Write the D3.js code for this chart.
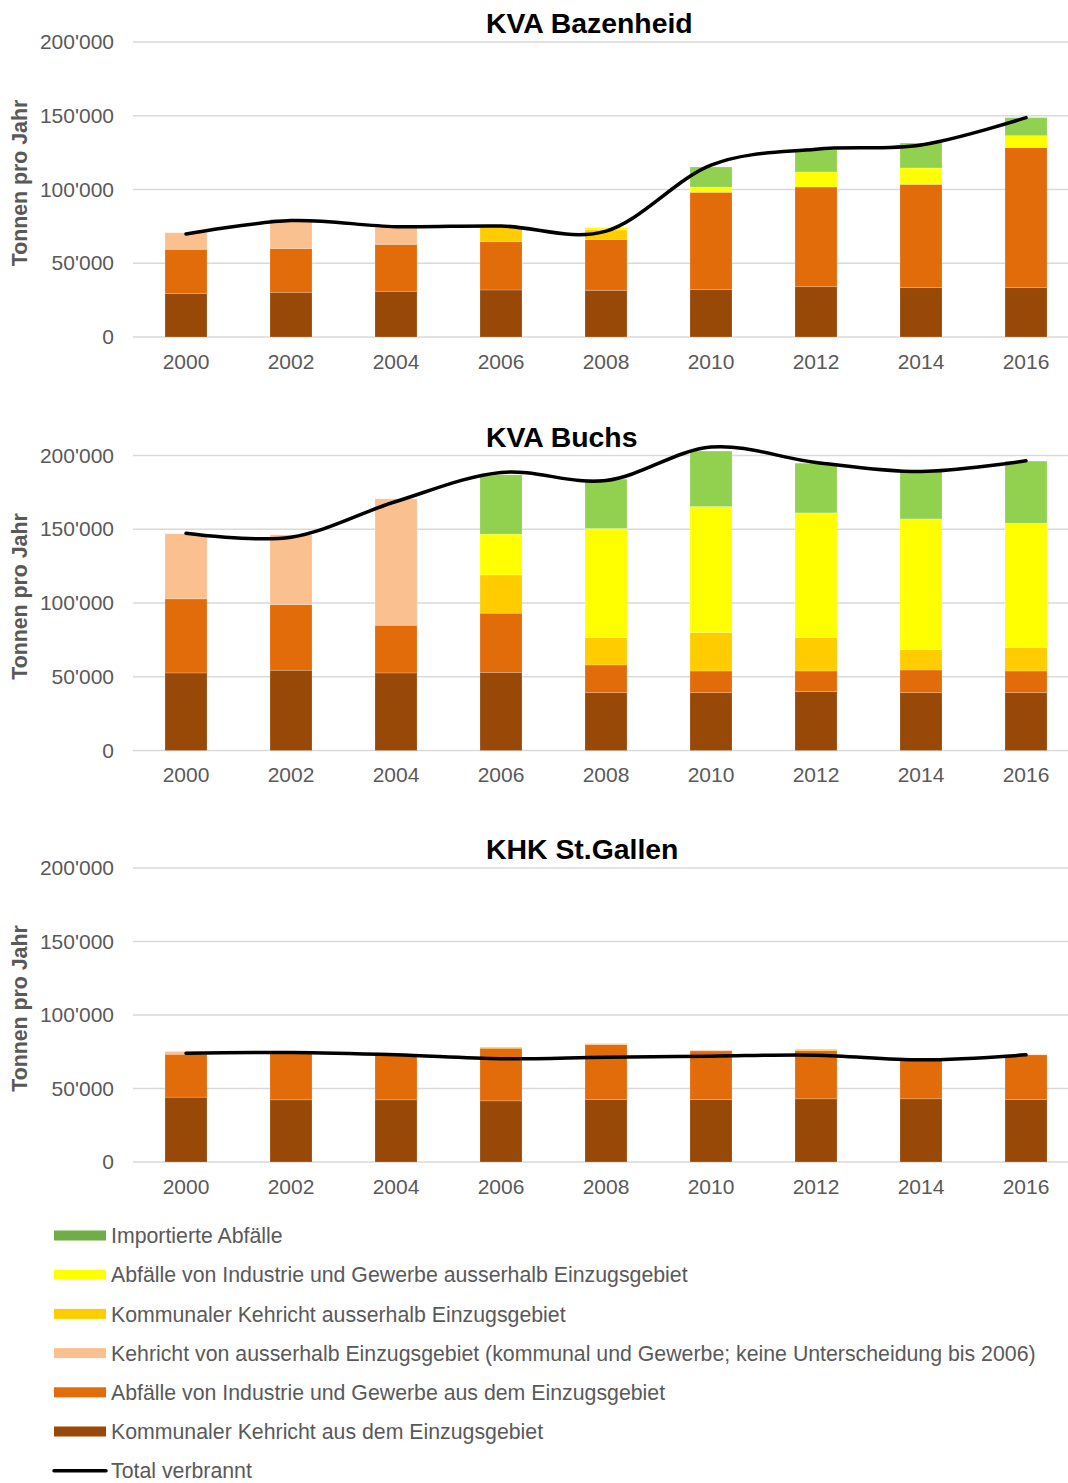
<!DOCTYPE html>
<html>
<head>
<meta charset="utf-8">
<script src="https://cdn.jsdelivr.net/npm/d3@7"></script>
<style>
  body { margin: 0; background: #fff; }
  svg { display: block; font-family: "Liberation Sans", Arial, sans-serif; }
</style>
</head>
<body>
<svg id="chart" width="1068" height="1483"></svg>
<script>
// years on the x axis
var years = ["2000", "2002", "2004", "2006", "2008", "2010", "2012", "2014", "2016"];
var yTicks = [0, 50000, 100000, 150000, 200000];

// series, bottom to top
var seriesNames = [
  "Kommunaler Kehricht aus dem Einzugsgebiet",
  "Abfälle von Industrie und Gewerbe aus dem Einzugsgebiet",
  "Kehricht von ausserhalb Einzugsgebiet (kommunal und Gewerbe; keine Unterscheidung bis 2006)",
  "Kommunaler Kehricht ausserhalb Einzugsgebiet",
  "Abfälle von Industrie und Gewerbe ausserhalb Einzugsgebiet",
  "Importierte Abfälle"
];
var barColors = ["#984807", "#E36C0A", "#FAC090", "#FFCC00", "#FFFF00", "#92D050"];
var legendColors = ["#984807", "#E36C0A", "#FAC090", "#FFCC00", "#FFFF00", "#70AD47"];

// KVA Bazenheid (t/year)
var bazKommunal      = [29600, 30300, 31000, 31900, 31650, 32300, 34100, 33450, 33450];
var bazIndustrie     = [29850, 29600, 31800, 32700, 34350, 65800, 67600, 70050, 94950];
var bazAusserhalb    = [11250, 20100, 12200, 0, 0, 0, 0, 0, 0];
var bazKommAusser    = [0, 0, 0, 10000, 6600, 0, 0, 0, 0];
var bazIndAusser     = [0, 0, 0, 0, 1600, 3600, 10200, 11100, 8100];
var bazImport        = [0, 0, 0, 0, 0, 13550, 14900, 16900, 12200];
var bazTotal         = [69800, 78900, 74800, 75250, 71800, 116500, 127300, 130200, 148700];

// KVA Buchs
var buchsKommunal    = [52600, 54400, 52600, 53000, 39200, 39200, 39900, 39200, 39200];
var buchsIndustrie   = [50200, 44500, 32300, 40100, 18800, 14700, 14000, 15400, 14700];
var buchsAusserhalb  = [44100, 47300, 85700, 0, 0, 0, 0, 0, 0];
var buchsKommAusser  = [0, 0, 0, 25900, 18500, 26000, 22600, 13800, 15800];
var buchsIndAusser   = [0, 0, 0, 27700, 74000, 85500, 84600, 88600, 84400];
var buchsImport      = [0, 0, 0, 40200, 33500, 37600, 33700, 32100, 42100];
var buchsTotal       = [147300, 144600, 168800, 188500, 183000, 205700, 195300, 189100, 196400];

// KHK St.Gallen
var sgKommunal       = [44100, 42300, 42300, 41600, 42500, 42500, 43000, 43000, 42500];
var sgIndustrie      = [29200, 32500, 30700, 35800, 37400, 33100, 32800, 26000, 30400];
var sgAusserhalb     = [1900, 0, 0, 0, 700, 500, 0, 0, 0];
var sgKommAusser     = [0, 0, 0, 700, 0, 0, 900, 0, 0];
var sgIndAusser      = [0, 0, 0, 0, 0, 0, 0, 0, 0];
var sgImport         = [0, 0, 0, 0, 0, 0, 0, 0, 0];
var sgTotal          = [74000, 74500, 72900, 70200, 71300, 72000, 72700, 69500, 72900];

var plants = [
  {title: "KVA Bazenheid", series: [bazKommunal, bazIndustrie, bazAusserhalb, bazKommAusser, bazIndAusser, bazImport], total: bazTotal, top: 42, bottom: 337},
  {title: "KVA Buchs", series: [buchsKommunal, buchsIndustrie, buchsAusserhalb, buchsKommAusser, buchsIndAusser, buchsImport], total: buchsTotal, top: 455.5, bottom: 750.5},
  {title: "KHK St.Gallen", series: [sgKommunal, sgIndustrie, sgAusserhalb, sgKommAusser, sgIndAusser, sgImport], total: sgTotal, top: 868, bottom: 1162}
];

var svg = d3.select("#chart");
var textGrey = "#595959";

var x = d3.scaleBand().domain(years).range([133.5, 1078.5]).paddingInner(0.6).paddingOuter(0.3);

function fmt(v) {
  return d3.format(",")(v).replace(/,/g, "'");
}

function drawPlant(p) {
  var y = d3.scaleLinear().domain([0, 200000]).range([p.bottom, p.top]);
  var g = svg.append("g").attr("class", "plant");

  // gridlines
  g.selectAll("line.grid")
    .data(yTicks)
    .enter().append("line")
      .attr("class", "grid")
      .attr("x1", 133).attr("x2", 1068)
      .attr("y1", function(d) { return y(d); })
      .attr("y2", function(d) { return y(d); })
      .attr("stroke", "#d9d9d9")
      .attr("stroke-width", 1.5);

  // y axis, labels only
  var yAxis = g.append("g")
    .attr("transform", "translate(114,0)")
    .call(d3.axisLeft(y).tickValues(yTicks).tickSize(0).tickPadding(0).tickFormat(fmt));
  yAxis.select(".domain").remove();
  yAxis.selectAll("text")
    .attr("fill", textGrey)
    .style("font-size", "21px");

  // x axis labels
  var xAxis = g.append("g")
    .attr("transform", "translate(0," + p.bottom + ")")
    .call(d3.axisBottom(x).tickSize(0).tickPadding(17));
  xAxis.select(".domain").remove();
  xAxis.selectAll("text")
    .attr("fill", textGrey)
    .style("font-size", "21px");

  // stacked bars
  var table = years.map(function(yr, i) {
    var row = {year: yr};
    p.series.forEach(function(s, k) { row[k] = s[i]; });
    return row;
  });
  var stack = d3.stack().keys(d3.range(seriesNames.length));
  var layers = stack(table);

  g.selectAll("g.layer")
    .data(layers)
    .enter().append("g")
      .attr("class", "layer")
      .attr("fill", function(d) { return barColors[d.key]; })
    .selectAll("rect")
    .data(function(d) { return d.filter(function(s) { return s[1] - s[0] > 0; }); })
    .enter().append("rect")
      .attr("x", function(d) { return x(d.data.year); })
      .attr("width", x.bandwidth())
      .attr("y", function(d) { return y(d[1]); })
      .attr("height", function(d) { return y(d[0]) - y(d[1]); })
      .attr("stroke", "rgba(255,255,255,0.25)")
      .attr("stroke-width", 0.75);

  // total line
  var line = d3.line()
    .curve(d3.curveCardinal.tension(0))
    .x(function(d, i) { return x(years[i]) + x.bandwidth() / 2; })
    .y(function(d) { return y(d); });

  g.append("path")
    .datum(p.total)
    .attr("d", line)
    .attr("fill", "none")
    .attr("stroke", "#000")
    .attr("stroke-width", 3.5)
    .attr("stroke-linecap", "round");

  // title
  g.append("text")
    .attr("x", 486)
    .attr("y", p.top - 9)
    .style("font-size", "28.4px")
    .style("font-weight", "bold")
    .attr("fill", "#000")
    .text(p.title);

  // y axis title
  g.append("text")
    .attr("transform", "translate(27," + ((p.top + p.bottom) / 2 - 6.5) + ") rotate(-90)")
    .attr("text-anchor", "middle")
    .style("font-size", "21.3px")
    .style("font-weight", "bold")
    .attr("fill", textGrey)
    .text("Tonnen pro Jahr");
}

plants.forEach(drawPlant);

// legend: top series first, line last
var legendItems = d3.range(seriesNames.length).reverse().map(function(k) {
  return {name: seriesNames[k], color: legendColors[k], type: "box"};
});
legendItems.push({name: "Total verbrannt", color: "#000", type: "line"});

var legend = svg.append("g").attr("class", "legend");
var item = legend.selectAll("g.item")
  .data(legendItems)
  .enter().append("g")
    .attr("class", "item")
    .attr("transform", function(d, i) { return "translate(54," + (1235.5 + i * 39.2) + ")"; });

item.filter(function(d) { return d.type == "box"; })
  .append("rect")
    .attr("x", 0).attr("y", -5)
    .attr("width", 52).attr("height", 10)
    .attr("fill", function(d) { return d.color; });

item.filter(function(d) { return d.type == "line"; })
  .append("line")
    .attr("x1", 0).attr("x2", 52)
    .attr("stroke", "#000")
    .attr("stroke-width", 3.5)
    .attr("stroke-linecap", "round");

item.append("text")
  .attr("x", 57)
  .attr("dy", "0.36em")
  .style("font-size", "21.3px")
  .attr("fill", textGrey)
  .text(function(d) { return d.name; });
</script>
</body>
</html>
